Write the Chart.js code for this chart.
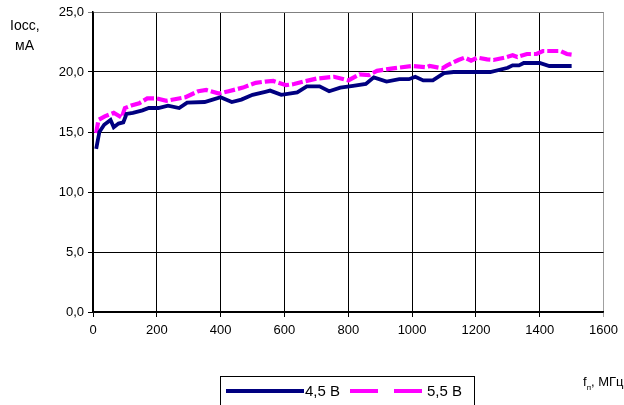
<!DOCTYPE html>
<html>
<head>
<meta charset="utf-8">
<script src="https://cdn.jsdelivr.net/npm/chart.js@4"></script>
<style>
  html, body { margin: 0; padding: 0; background: #fff; }
  #wrap { position: relative; width: 624px; height: 405px; overflow: hidden; font-family: "Liberation Sans", Arial, sans-serif; }
  #chart { position: absolute; left: 0; top: 0; }
  .lbl { position: absolute; font-size: 14px; color: #000; white-space: nowrap; }
  #legend { position: absolute; left: 220px; top: 376px; width: 253px; height: 40px; border: 1px solid #000; background: #fff; }
  #legend .sw { position: absolute; height: 4px; }
  #legend .txt { position: absolute; top: 5px; font-size: 15px; }
</style>
</head>
<body>
<div id="wrap">
  <canvas id="chart" width="624" height="405"></canvas>
  <div class="lbl" style="left:10px; top:17px;">Iосс,</div>
  <div class="lbl" style="left:15px; top:37px;">мА</div>
  <div class="lbl" style="left:583px; top:374px; font-size:13px;">f<sub style="font-size:8px;">п</sub>, МГц</div>
  <div id="legend">
    <div class="sw" style="left:5px; top:12px; width:78px; background:#000080;"></div>
    <div class="txt" style="left:84px;">4,5 В</div>
    <div class="sw" style="left:129px; top:12px; width:28px; background:#ff00ff;"></div>
    <div class="sw" style="left:173px; top:12px; width:28px; background:#ff00ff;"></div>
    <div class="txt" style="left:206px;">5,5 В</div>
  </div>
</div>
<script>
// частоты и токи
const freq45 = [10, 20, 35, 55, 65, 80, 95, 105, 125, 155, 175, 205, 235, 270, 295, 350, 375, 400, 435, 465,
    500, 540, 555, 590, 640, 670, 710, 740, 775, 815, 855, 880, 920, 960, 990, 1010, 1035, 1065, 1100, 1130,
    1245, 1300, 1315, 1335, 1350, 1400, 1430, 1500];
const icc45 = [13.6, 15.0, 15.6, 16.0, 15.4, 15.7, 15.8, 16.5, 16.6, 16.8, 17.0, 17.0, 17.2, 17.0, 17.45, 17.5, 17.7, 17.9, 17.5, 17.7,
    18.1, 18.35, 18.45, 18.1, 18.3, 18.8, 18.8, 18.4, 18.7, 18.85, 19.0, 19.55, 19.2, 19.4, 19.4, 19.6, 19.3, 19.3, 19.9, 20.0,
    20.0, 20.35, 20.55, 20.55, 20.75, 20.75, 20.5, 20.5];

const freq55 = [10, 17, 37, 65, 90, 100, 120, 145, 170, 200, 230, 290, 330, 355, 395, 425, 470, 510, 540, 565,
    605, 630, 660, 700, 755, 800, 835, 865, 890, 940, 1000, 1045, 1055, 1095, 1110, 1145, 1165, 1185, 1205, 1235,
    1255, 1290, 1315, 1330, 1360, 1390, 1410, 1465, 1485, 1500];
const icc55 = [14.9, 16.0, 16.3, 16.6, 16.2, 17.0, 17.2, 17.4, 17.8, 17.8, 17.6, 17.9, 18.4, 18.5, 18.2, 18.4, 18.7, 19.1, 19.2, 19.25,
    18.9, 19.0, 19.2, 19.45, 19.6, 19.3, 19.8, 19.75, 20.1, 20.3, 20.5, 20.4, 20.5, 20.3, 20.55, 21.0, 21.2, 20.95, 21.2, 21.05,
    21.0, 21.2, 21.4, 21.25, 21.5, 21.5, 21.75, 21.75, 21.5, 21.45];

const xTicks = [0, 200, 400, 600, 800, 1000, 1200, 1400, 1600];
const yTicks = [0, 5, 10, 15, 20, 25];

function toPoints(xs, ys) {
    return xs.map((x, i) => ({ x: x, y: ys[i] }));
}

const tickFont = { family: '"Liberation Sans", Arial, sans-serif', size: 13 };

new Chart(document.getElementById('chart').getContext('2d'), {
    type: 'line',
    data: {
        datasets: [
            {
                label: '4,5 В',
                data: toPoints(freq45, icc45),
                borderColor: '#000080',
                borderWidth: 3.8,
                pointRadius: 0,
                tension: 0
            },
            {
                label: '5,5 В',
                data: toPoints(freq55, icc55),
                borderColor: '#ff00ff',
                borderWidth: 4.2,
                borderDash: [11, 3],
                pointRadius: 0,
                tension: 0
            }
        ]
    },
    options: {
        responsive: false,
        animation: false,
        layout: { padding: { left: 0, right: 17, top: 12, bottom: 63 } },
        plugins: { legend: { display: false }, tooltip: { enabled: false } },
        scales: {
            x: {
                type: 'linear',
                min: 0, max: 1600,
                afterBuildTicks: s => { s.ticks = xTicks.map(v => ({ value: v })); },
                afterFit: s => { s.height = 30; },
                ticks: { color: '#000', font: tickFont, padding: 6, maxRotation: 0, callback: v => String(v) },
                grid: {
                    color: c => (c.tick && c.tick.value === 1600) ? '#a0a0a0' : '#000',
                    lineWidth: 1,
                    tickLength: 5
                },
                border: { color: '#000', width: 1.5 }
            },
            y: {
                min: 0, max: 25,
                afterBuildTicks: s => { s.ticks = yTicks.map(v => ({ value: v })); },
                afterFit: s => { s.width = 93; },
                ticks: {
                    color: '#000', font: tickFont, padding: 4,
                    callback: v => v.toFixed(1).replace('.', ',')
                },
                grid: {
                    color: c => (c.tick && c.tick.value === 25) ? '#808080' : '#000',
                    lineWidth: 1,
                    tickLength: 5
                },
                border: { color: '#000', width: 1.5 }
            }
        }
    }
});
</script>
</body>
</html>
